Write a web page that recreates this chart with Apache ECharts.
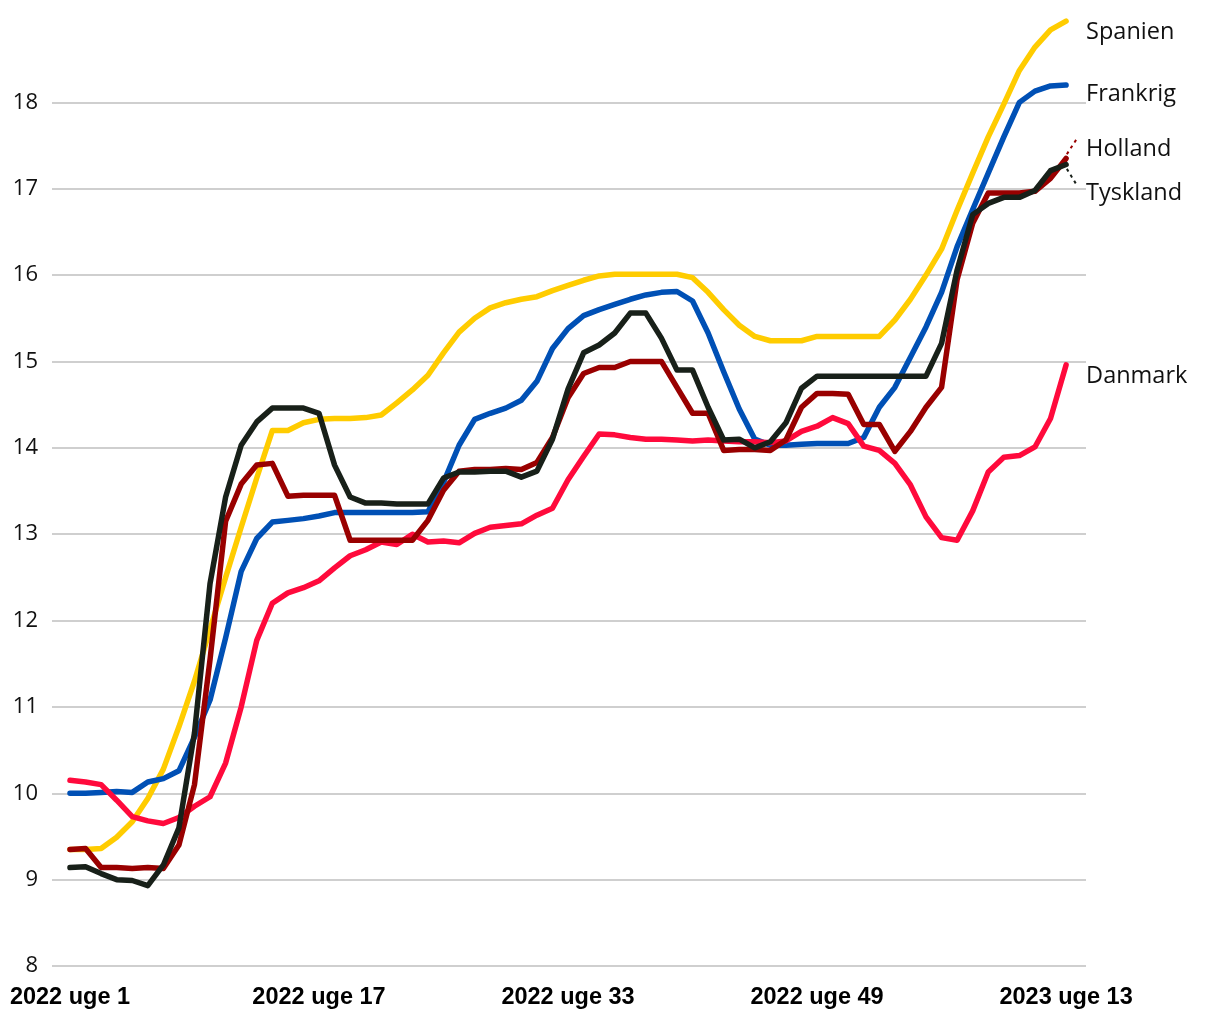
<!DOCTYPE html>
<html>
<head>
<meta charset="utf-8">
<script src="https://cdn.jsdelivr.net/npm/echarts@6/dist/echarts.min.js"></script>
<style>
html,body{margin:0;padding:0;background:#fff;}
#c{width:1220px;height:1020px;}
</style>
</head>
<body>
<div id="c"></div>
<script>
// Week index 0 = 2022 uge 1 ... 64 = 2023 uge 13
var tickIndex = [0, 16, 32, 48, 64];
var tickLabels = ['2022 uge 1', '2022 uge 17', '2022 uge 33', '2022 uge 49', '2023 uge 13'];
var yTicks = [8, 9, 10, 11, 12, 13, 14, 15, 16, 17, 18];

var spanien = [9.35,9.35,9.36,9.49,9.67,9.94,10.28,10.77,11.3,11.9,12.5,13.08,13.65,14.2,14.2,14.29,14.33,14.34,14.34,14.35,14.38,14.52,14.67,14.84,15.1,15.34,15.5,15.62,15.68,15.72,15.75,15.82,15.88,15.94,15.99,16.01,16.01,16.01,16.01,16.01,15.97,15.8,15.6,15.42,15.29,15.24,15.24,15.24,15.29,15.29,15.29,15.29,15.29,15.48,15.72,16.0,16.3,16.75,17.18,17.6,17.98,18.37,18.64,18.84,18.94];
var frankrig = [10.0,10.0,10.01,10.02,10.01,10.13,10.17,10.26,10.65,11.08,11.8,12.57,12.95,13.14,13.16,13.18,13.21,13.25,13.25,13.25,13.25,13.25,13.25,13.26,13.6,14.03,14.33,14.4,14.46,14.55,14.77,15.15,15.38,15.53,15.6,15.66,15.72,15.77,15.8,15.81,15.7,15.33,14.88,14.45,14.1,14.03,14.03,14.04,14.05,14.05,14.05,14.12,14.47,14.7,15.05,15.4,15.8,16.33,16.76,17.18,17.6,18.0,18.13,18.19,18.2];
var danmark = [10.15,10.13,10.1,9.92,9.73,9.68,9.65,9.72,9.85,9.96,10.35,11.0,11.77,12.2,12.32,12.38,12.46,12.61,12.75,12.82,12.91,12.88,13.0,12.91,12.92,12.9,13.01,13.08,13.1,13.12,13.22,13.3,13.63,13.9,14.16,14.15,14.12,14.1,14.1,14.09,14.08,14.09,14.08,14.07,14.07,14.06,14.08,14.19,14.25,14.35,14.28,14.02,13.97,13.82,13.57,13.2,12.96,12.93,13.27,13.72,13.89,13.91,14.01,14.34,14.96];
var holland = [9.35,9.36,9.14,9.14,9.13,9.14,9.13,9.4,10.1,11.55,13.15,13.58,13.8,13.82,13.44,13.45,13.45,13.45,12.93,12.93,12.93,12.93,12.93,13.16,13.51,13.73,13.75,13.75,13.76,13.75,13.83,14.12,14.58,14.86,14.93,14.93,15.0,15.0,15.0,14.7,14.4,14.4,13.97,13.98,13.98,13.97,14.09,14.47,14.63,14.63,14.62,14.27,14.27,13.96,14.19,14.47,14.7,15.95,16.6,16.95,16.95,16.95,16.97,17.12,17.35];
var tyskland = [9.14,9.15,9.07,9.0,8.99,8.93,9.17,9.6,10.7,12.43,13.43,14.03,14.3,14.46,14.46,14.46,14.4,13.8,13.43,13.36,13.36,13.35,13.35,13.35,13.65,13.72,13.72,13.73,13.73,13.66,13.73,14.1,14.68,15.1,15.19,15.33,15.56,15.56,15.27,14.9,14.9,14.47,14.09,14.1,14.0,14.07,14.29,14.69,14.83,14.83,14.83,14.83,14.83,14.83,14.83,14.83,15.21,16.06,16.7,16.83,16.9,16.9,16.98,17.21,17.28];

function pts(arr){ return arr.map(function(v,i){ return [i, v]; }); }

var chart = echarts.init(document.getElementById('c'), null, {renderer:'canvas'});

function mkSeries(name, data, color, dy, leader){
  var s = {
    name: name,
    type: 'line',
    data: pts(data),
    symbol: 'none',
    smooth: false,
    lineStyle: {color: color, width: 5.5, cap: 'round', join: 'round'},
    itemStyle: {color: color},
    endLabel: {
      show: true,
      formatter: name,
      color: '#111',
      fontFamily: 'Open Sans',
      fontSize: 23.5,
      distance: 20,
      offset: [0, dy]
    },
    emphasis: {disabled: true},
    silent: true
  };
  if (leader) {
    s.markLine = {
      silent: true,
      symbol: 'none',
      label: {show: false},
      lineStyle: {color: color, type: [3, 4], width: 2},
      data: [[{coord: leader[0]}, {coord: leader[1]}]]
    };
  }
  return s;
}

var option = {
  animation: false,
  backgroundColor: '#fff',
  grid: {left: 52, right: 134, top: 16, bottom: 54, containLabel: false},
  xAxis: {
    type: 'value',
    min: -1.155,
    max: 65.28,
    axisLine: {show: false},
    axisTick: {show: false},
    splitLine: {show: false},
    axisLabel: {
      customValues: tickIndex,
      formatter: function(v){
        var k = tickIndex.indexOf(Math.round(v));
        return k >= 0 ? tickLabels[k] : '';
      },
      color: '#000',
      fontFamily: 'Liberation Sans',
      fontWeight: 'bold',
      fontSize: 23.5,
      margin: 20
    }
  },
  yAxis: {
    type: 'value',
    min: 8,
    max: 19,
    interval: 1,
    axisLine: {show: false},
    axisTick: {show: false},
    splitLine: {show: true, showMaxLine: false, lineStyle: {color: '#bfbfbf', width: 1.5}},
    axisLabel: {
      showMaxLabel: false,
      color: '#111',
      fontFamily: 'Open Sans',
      fontSize: 22,
      margin: 14
    }
  },
  series: [
    mkSeries('Spanien', spanien, '#FFCC00', 11),
    mkSeries('Frankrig', frankrig, '#0050B5', 9),
    mkSeries('Danmark', danmark, '#FF0A3C', 11),
    mkSeries('Holland', holland, '#990000', -9, [[64.05, 17.4], [64.66, 17.57]]),
    mkSeries('Tyskland', tyskland, '#182019', 29, [[64.05, 17.23], [64.66, 17.05]])
  ]
};
chart.setOption(option);
</script>
</body>
</html>
